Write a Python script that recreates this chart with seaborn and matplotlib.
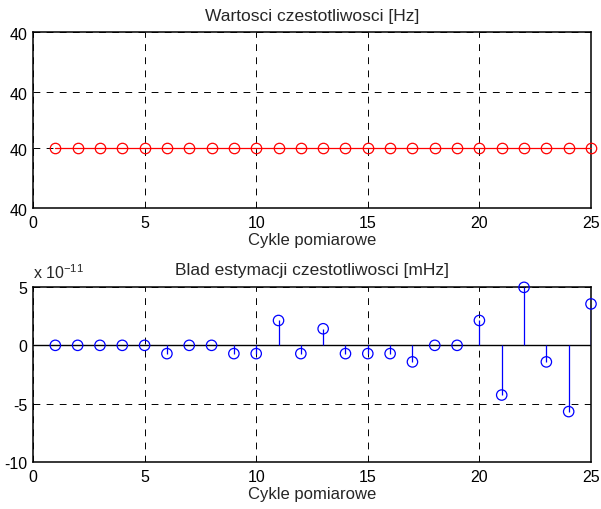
import numpy as np
import pandas as pd
import matplotlib
matplotlib.use('Agg')
import matplotlib.pyplot as plt
import seaborn as sns

# cycle numbers
cycles = [1, 2, 3, 4, 5, 6, 7, 8, 9, 10, 11, 12, 13, 14, 15, 16, 17, 18, 19, 20, 21, 22, 23, 24, 25]

# estimated frequency [Hz]
freq_hz = [40.0, 40.0, 40.0, 40.0, 40.0, 40.0, 40.0, 40.0, 40.0, 40.0, 40.0, 40.0, 40.0,
           40.0, 40.0, 40.0, 40.0, 40.0, 40.0, 40.0, 40.0, 40.0, 40.0, 40.0, 40.0]

# estimation error [mHz], in units of 1e-11
err_e11 = [0.0, 0.0, 0.0, 0.0, 0.0, -0.71, 0.0, 0.0, -0.71, -0.71, 2.13, -0.71, 1.42,
           -0.71, -0.71, -0.71, -1.42, 0.0, 0.0, 2.13, -4.26, 4.97, -1.42, -5.68, 3.55]

top_ticks = [40 - 1e-13, 40.0, 40 + 1e-13, 40 + 2e-13]
top_labels = ['40', '40', '40', '40']
x_ticks = [0, 5, 10, 15, 20, 25]
bot_ticks = [-10, -5, 0, 5]

sns.set_style('white')
plt.rcParams['font.family'] = ['Liberation Sans', 'DejaVu Sans']
plt.rcParams['axes.unicode_minus'] = False

df_top = pd.DataFrame({'cycle': cycles, 'freq': freq_hz})
df_bot = pd.DataFrame({'cycle': cycles, 'err': err_e11})

fig = plt.figure(figsize=(6.01, 5.10), dpi=100)
ax1 = fig.add_axes([33 / 601, 1 - 209 / 510, 558 / 601, 176 / 510])
ax2 = fig.add_axes([33 / 601, 1 - 463 / 510, 558 / 601, 175 / 510])

grid_kw = dict(color='black', linestyle=(0, (7, 6.5)), linewidth=0.7)
TITLE_FS = 12.5
LABEL_FS = 12
TICK_FS = 11.5

# top: frequency values
sns.lineplot(data=df_top, x='cycle', y='freq', ax=ax1, color='red', linewidth=0.9,
             marker='o', markersize=7.5, markerfacecolor='none', markeredgecolor='red',
             markeredgewidth=0.9, zorder=3, clip_on=False)
ax1.set_xlim(0, 25)
ax1.set_ylim(top_ticks[0], top_ticks[-1])
ax1.set_yticks(top_ticks)
ax1.set_yticklabels(top_labels)
ax1.set_xticks(x_ticks)
ax1.set_title('Wartosci czestotliwosci [Hz]', fontsize=TITLE_FS, pad=9)
ax1.set_xlabel('Cykle pomiarowe', fontsize=LABEL_FS, labelpad=1.5)
ax1.set_ylabel('')
ax1.grid(True, **grid_kw)

# bottom: estimation error as stems
ax2.axhline(0, color='black', linewidth=1.0, zorder=2)
ax2.vlines(df_bot['cycle'], 0, df_bot['err'], color='blue', linewidth=0.9, zorder=3)
sns.scatterplot(data=df_bot, x='cycle', y='err', ax=ax2, s=56, marker='o',
                facecolors='none', edgecolor='blue', linewidth=0.9, zorder=4, clip_on=False)
ax2.set_xlim(0, 25)
ax2.set_ylim(-10, 5)
ax2.set_yticks(bot_ticks)
ax2.set_xticks(x_ticks)
ax2.set_title('Blad estymacji czestotliwosci [mHz]', fontsize=TITLE_FS, pad=9)
ax2.set_xlabel('Cykle pomiarowe', fontsize=LABEL_FS, labelpad=1.5)
ax2.set_ylabel('')
ax2.grid(True, **grid_kw)
ax2.text(0.0, 1.051, r'x 10$^{\mathregular{-11}}$', transform=ax2.transAxes,
         ha='left', va='baseline', fontsize=11.5)

for ax in (ax1, ax2):
    for sp in ax.spines.values():
        sp.set_visible(True)
        sp.set_color('black')
        sp.set_linewidth(1.1)
    ax.tick_params(direction='in', length=3, width=0.8, labelsize=TICK_FS,
                   colors='black')
    ax.tick_params(axis='x', pad=5)
    ax.tick_params(axis='y', pad=4)
    ax.set_axisbelow(False)

fig.savefig('out.png', dpi=100, facecolor='white')
